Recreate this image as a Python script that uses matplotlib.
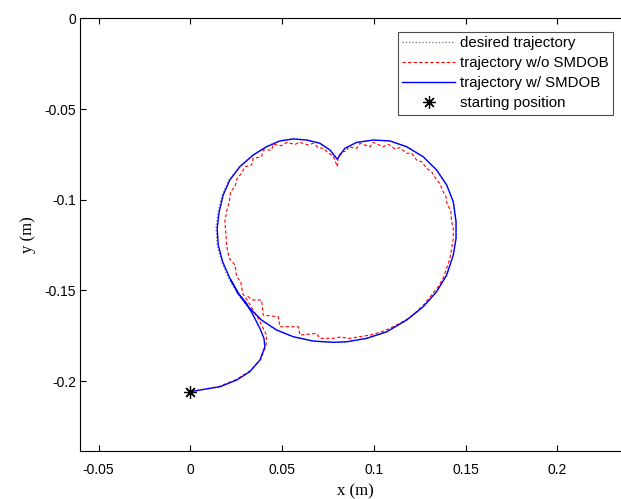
import matplotlib
matplotlib.use('Agg')
import matplotlib.pyplot as plt

# start point
start_x = [0.0]
start_y = [-0.2058]

# desired trajectory (heart-shaped reference, closed)
desired_x = [0.0255, 0.0209, 0.0170, 0.0146, 0.0140, 0.0151, 0.0173, 0.0210, 0.0266,
             0.0339, 0.0413, 0.0487, 0.0561, 0.0634, 0.0706, 0.0761, 0.0800,
             0.0842, 0.0906, 0.0997, 0.1088, 0.1179, 0.1269, 0.1342, 0.1397,
             0.1433, 0.1448, 0.1448, 0.1433, 0.1397, 0.1342, 0.1269, 0.1179,
             0.1070, 0.0961, 0.0852, 0.0779, 0.0670, 0.0561, 0.0470, 0.0386,
             0.0312, 0.0255]
desired_y = [-0.1516, -0.1433, -0.1342, -0.1250, -0.1158, -0.1066, -0.0974, -0.0891, -0.0818,
             -0.0754, -0.0707, -0.0675, -0.0664, -0.0670, -0.0688, -0.0725, -0.0776,
             -0.0717, -0.0684, -0.0671, -0.0676, -0.0708, -0.0763, -0.0836, -0.0919,
             -0.1011, -0.1121, -0.1213, -0.1305, -0.1415, -0.1507, -0.1590, -0.1663,
             -0.1728, -0.1764, -0.1783, -0.1787, -0.1780, -0.1757, -0.1720, -0.1665,
             -0.1592, -0.1516]

# trajectory without SMDOB (red dashed)
wo_x = [0.0, 0.0052, 0.0161, 0.0252, 0.0327, 0.0384, 0.0412, 0.0415, 0.0388, 0.0370,
        0.0342, 0.0315, 0.0297, 0.0285, 0.0274, 0.0252, 0.0243, 0.0212, 0.0197,
        0.0194, 0.0188, 0.0197, 0.0212, 0.0219, 0.0243, 0.0255, 0.0279, 0.0297,
        0.0334, 0.0342, 0.0388, 0.0397, 0.0443, 0.0451, 0.0497, 0.0525, 0.0570,
        0.0597, 0.0642, 0.0670, 0.0697, 0.0728, 0.0751, 0.0775, 0.0788, 0.0800,
        0.0804, 0.0806, 0.0824, 0.0852, 0.0860, 0.0906, 0.0924, 0.0979, 0.0997,
        0.1051, 0.1079, 0.1115, 0.1142, 0.1179, 0.1206, 0.1233, 0.1261, 0.1288,
        0.1315, 0.1342, 0.1360, 0.1378, 0.1393, 0.1400, 0.1419, 0.1424, 0.1433,
        0.1433, 0.1424, 0.1415, 0.1397, 0.1378, 0.1351, 0.1315, 0.1279, 0.1233,
        0.1188, 0.1142, 0.1088, 0.1033, 0.0979, 0.0924, 0.0870, 0.0815, 0.0779,
        0.0743, 0.0706, 0.0688, 0.0597, 0.0588, 0.0488, 0.0479, 0.0397, 0.0388,
        0.0342, 0.0306]
wo_y = [-0.2058, -0.2049, -0.2028, -0.1990, -0.1942, -0.1878, -0.1805, -0.1746, -0.1691, -0.1654,
        -0.1608, -0.1562, -0.1535, -0.1516, -0.1452, -0.1424, -0.1360, -0.1323, -0.1250,
        -0.1195, -0.1121, -0.1066, -0.1011, -0.0956, -0.0928, -0.0882, -0.0854, -0.0818,
        -0.0809, -0.0772, -0.0763, -0.0726, -0.0726, -0.0695, -0.0702, -0.0684, -0.0695,
        -0.0684, -0.0698, -0.0689, -0.0713, -0.0717, -0.0744, -0.0754, -0.0781, -0.0818,
        -0.0791, -0.0763, -0.0735, -0.0732, -0.0708, -0.0717, -0.0689, -0.0708, -0.0684,
        -0.0708, -0.0695, -0.0720, -0.0713, -0.0744, -0.0744, -0.0781, -0.0791, -0.0827,
        -0.0846, -0.0891, -0.0910, -0.0956, -0.0983, -0.1029, -0.1057, -0.1121, -0.1158,
        -0.1213, -0.1268, -0.1323, -0.1378, -0.1433, -0.1480, -0.1525, -0.1571, -0.1617,
        -0.1654, -0.1681, -0.1709, -0.1731, -0.1746, -0.1755, -0.1764, -0.1757, -0.1764,
        -0.1764, -0.1764, -0.1737, -0.1746, -0.1700, -0.1700, -0.1645, -0.1636, -0.1553,
        -0.1553, -0.1529]

# trajectory with SMDOB (blue solid)
w_x = [0.0, 0.0052, 0.0161, 0.0252, 0.0324, 0.0379, 0.0406, 0.0401, 0.0379, 0.0342,
       0.0306, 0.0261, 0.0215, 0.0176, 0.0152, 0.0146, 0.0157, 0.0179, 0.0215,
       0.0270, 0.0342, 0.0415, 0.0488, 0.0561, 0.0634, 0.0706, 0.0761, 0.0800,
       0.0842, 0.0906, 0.0997, 0.1088, 0.1179, 0.1269, 0.1342, 0.1397, 0.1433,
       0.1448, 0.1448, 0.1433, 0.1397, 0.1342, 0.1269, 0.1179, 0.1070, 0.0961,
       0.0852, 0.0779, 0.0670, 0.0561, 0.0470, 0.0388, 0.0315, 0.0261, 0.0221]
w_y = [-0.2058, -0.2049, -0.2031, -0.1994, -0.1948, -0.1884, -0.1810, -0.1764, -0.1709, -0.1636,
       -0.1571, -0.1516, -0.1433, -0.1342, -0.1250, -0.1158, -0.1066, -0.0974, -0.0891,
       -0.0818, -0.0754, -0.0708, -0.0676, -0.0665, -0.0671, -0.0689, -0.0726, -0.0776,
       -0.0717, -0.0684, -0.0671, -0.0676, -0.0708, -0.0763, -0.0836, -0.0919, -0.1011,
       -0.1121, -0.1213, -0.1305, -0.1415, -0.1507, -0.1590, -0.1663, -0.1728, -0.1764,
       -0.1783, -0.1786, -0.1779, -0.1755, -0.1718, -0.1663, -0.1590, -0.1516, -0.1443]

x_ticks = [-0.05, 0, 0.05, 0.1, 0.15, 0.2]
x_tick_labels = ['-0.05', '0', '0.05', '0.1', '0.15', '0.2']
y_ticks = [-0.2, -0.15, -0.1, -0.05, 0]
y_tick_labels = ['-0.2', '-0.15', '-0.1', '-0.05', '0']

plt.rcParams['font.family'] = ['Liberation Sans', 'DejaVu Sans']

fig = plt.figure(figsize=(6.21, 4.99), dpi=100)
fig.patch.set_facecolor('white')
# axes extends slightly past the right edge, like the original export
ax = fig.add_axes([80.3 / 621, 48 / 499, 550.4 / 621, 432.7 / 499])

ax.plot(desired_x, desired_y, linestyle=':', color='0.45', linewidth=0.9,
        label='desired trajectory')
ax.plot(wo_x, wo_y, linestyle='--', color='red', linewidth=0.8, dashes=(3, 2),
        label='trajectory w/o SMDOB')
ax.plot(w_x, w_y, linestyle='-', color='blue', linewidth=1.0,
        label='trajectory w/ SMDOB')
ax.plot(start_x, start_y, linestyle='none', marker=(8, 2, 0), markersize=9,
        markeredgewidth=0.9, color='black', label='starting position')

ax.set_xlim(-0.06, 0.24)
ax.set_ylim(-0.2385, 0)
ax.set_xticks(x_ticks)
ax.set_xticklabels(x_tick_labels)
ax.set_yticks(y_ticks)
ax.set_yticklabels(y_tick_labels)
ax.tick_params(direction='in', top=True, right=True, length=4, width=0.8,
               labelsize=10)
ax.tick_params(axis='x', pad=9)
ax.tick_params(axis='y', pad=3)
for sp in ax.spines.values():
    sp.set_linewidth(0.8)

ax.set_xlabel('x (m)', family='Liberation Serif', fontsize=12)
ax.set_ylabel('y (m)', family='Liberation Serif', fontsize=12)
ax.xaxis.set_label_coords(0.5, -0.075)
ax.yaxis.set_label_coords(-0.08, 0.5)

leg = ax.legend(loc='upper right', bbox_to_anchor=(613 / 621, 1 - 31.7 / 499),
                bbox_transform=fig.transFigure, borderaxespad=0, fontsize=10.8,
                fancybox=False, framealpha=1, edgecolor='0.3',
                handlelength=3.5, handletextpad=0.33, labelspacing=0.4,
                borderpad=0.3)
leg.get_frame().set_linewidth(0.8)

fig.savefig('out.png', dpi=100)
